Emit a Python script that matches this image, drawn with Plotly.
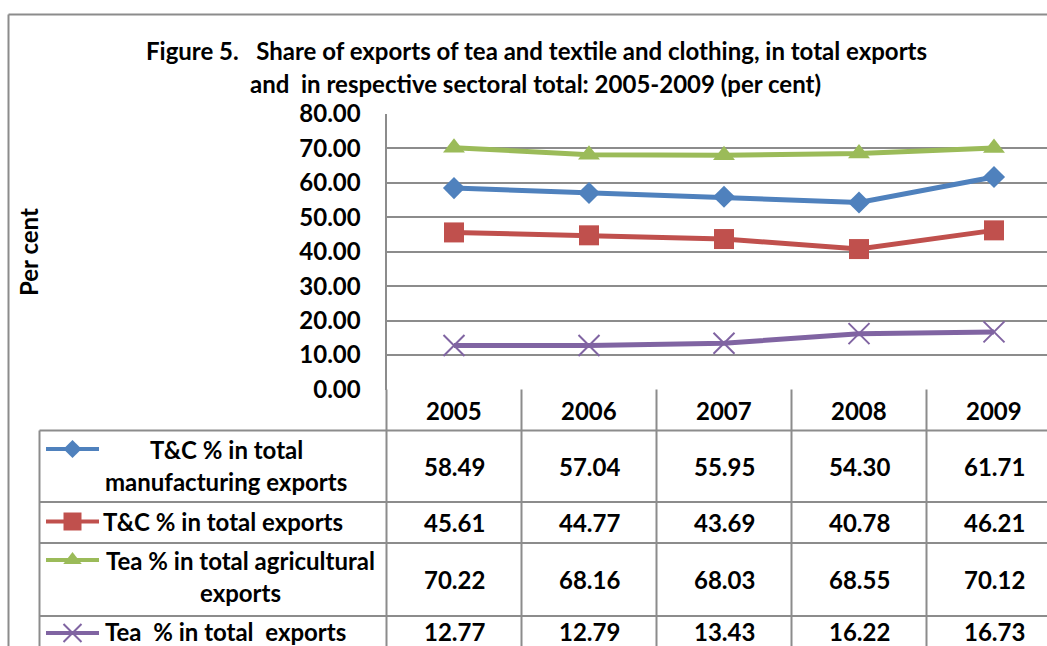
import plotly.graph_objects as go

# Share of exports of tea and textile & clothing (per cent), 2005-2009
years = ["2005", "2006", "2007", "2008", "2009"]
series_names = [
    "T&C % in total manufacturing exports",
    "T&C % in total exports",
    "Tea % in total agricultural exports",
    "Tea  % in total  exports",
]
tc_manufacturing = [58.49, 57.04, 55.95, 54.30, 61.71]
tc_total = [45.61, 44.77, 43.69, 40.78, 46.21]
tea_agricultural = [70.22, 68.16, 68.03, 68.55, 70.12]
tea_total = [12.77, 12.79, 13.43, 16.22, 16.73]
y_ticks = [0, 10, 20, 30, 40, 50, 60, 70, 80]

W, H = 1047, 646
FONT = "Lato"
FS = 24
GRID = "#8c8c8c"


def px(x):
    return x / W


def py(y):
    return 1 - y / H


series = [
    dict(values=tc_manufacturing, color="#4F81BD", symbol="diamond", size=17, key_size=14,
         label=["T&C % in total", "manufacturing exports"], label_x=[226, 226]),
    dict(values=tc_total, color="#C0504D", symbol="square", size=20, key_size=18,
         label=["T&C % in total exports"], label_x=[223]),
    dict(values=tea_agricultural, color="#9BBB59", symbol="triangle-up", size=19, key_size=16,
         label=["Tea % in total agricultural", "exports"], label_x=[240, 240]),
    dict(values=tea_total, color="#8064A2", symbol="x-thin-open", size=21, key_size=18,
         label=["Tea  % in total  exports"], label_x=[225]),
]

# plot-area geometry (pixels)
PL, PT, PB = 386.5, 114, 389.5
COL_W = 135
FIRST_C = PL + COL_W / 2
x_right = (W - FIRST_C) / COL_W

fig = go.Figure()

for s, name in zip(series, series_names):
    is_x = s["symbol"].startswith("x")
    fig.add_trace(go.Scatter(
        x=years, y=s["values"], name=name, mode="lines+markers",
        line=dict(color=s["color"], width=5),
        marker=dict(symbol=s["symbol"], size=s["size"], color=s["color"],
                    line=dict(color=s["color"], width=2 if is_x else 0)),
        showlegend=False, cliponaxis=False,
    ))

# data table row geometry (pixels)
header_top, header_bot = PB, 430.5
row_lines = [430.5, 502, 543, 616, 690]
row_key_y = [449, 521.5, 560, 633]
row_text_y = [[449, 481], [521.5], [560, 592], [631]]
col_lines = [386.5 + COL_W * i for i in range(0, 6)]
LEG_L = 39.5

# legend keys inside the table, drawn on a full-page pixel-space axis pair
for s, ky in zip(series, row_key_y):
    is_x = s["symbol"].startswith("x")
    fig.add_trace(go.Scatter(
        x=[46, 72.5, 99], y=[ky, ky, ky], mode="lines",
        line=dict(color=s["color"], width=4), xaxis="x2", yaxis="y2",
        showlegend=False, hoverinfo="skip",
    ))
    fig.add_trace(go.Scatter(
        x=[72.5], y=[ky], mode="markers", xaxis="x2", yaxis="y2",
        marker=dict(symbol=s["symbol"], size=s["key_size"], color=s["color"],
                    line=dict(color=s["color"], width=2 if is_x else 0)),
        showlegend=False, hoverinfo="skip",
    ))

shapes = []
line_style = dict(color=GRID, width=2)
# outer chart border (top and left edges)
shapes.append(dict(type="line", xref="paper", yref="paper", x0=px(8.5), x1=px(W + 5),
                   y0=py(14.5), y1=py(14.5), line=line_style))
shapes.append(dict(type="line", xref="paper", yref="paper", x0=px(8.5), x1=px(8.5),
                   y0=py(14.5), y1=py(H + 5), line=line_style))
# table horizontal rules
for yl in row_lines:
    shapes.append(dict(type="line", xref="paper", yref="paper", x0=px(LEG_L), x1=px(W + 5),
                       y0=py(yl), y1=py(yl), line=line_style))
# table vertical rules
shapes.append(dict(type="line", xref="paper", yref="paper", x0=px(LEG_L), x1=px(LEG_L),
                   y0=py(header_bot), y1=py(H + 5), line=line_style))
for xl in col_lines:
    shapes.append(dict(type="line", xref="paper", yref="paper", x0=px(xl), x1=px(xl),
                       y0=py(header_top), y1=py(H + 5), line=line_style))

annotations = []
txt_font = dict(family=FONT, size=FS, color="black", weight="bold")
# year headers
for i, yr in enumerate(years):
    annotations.append(dict(x=px(FIRST_C + COL_W * i), y=py(410), xref="paper", yref="paper",
                            text=yr, showarrow=False, font=txt_font,
                            xanchor="center", yanchor="middle"))
# values
row_value_y = [466, 522.5, 579.5, 631]
for s, vy in zip(series, row_value_y):
    for i, v in enumerate(s["values"]):
        annotations.append(dict(x=px(FIRST_C + COL_W * i), y=py(vy), xref="paper", yref="paper",
                                text=f"{v:.2f}", showarrow=False, font=txt_font,
                                xanchor="center", yanchor="middle"))
# row labels
for s, ys in zip(series, row_text_y):
    for line, lx, ly in zip(s["label"], s["label_x"], ys):
        annotations.append(dict(x=px(lx), y=py(ly), xref="paper", yref="paper",
                                text=line, showarrow=False, font=txt_font,
                                xanchor="center", yanchor="middle"))
# title
annotations.append(dict(x=px(536), y=py(50), xref="paper", yref="paper",
                        text="Figure 5.   Share of exports of tea and textile and clothing, in total exports",
                        showarrow=False, font=txt_font, xanchor="center", yanchor="middle"))
annotations.append(dict(x=px(535), y=py(83), xref="paper", yref="paper",
                        text="and  in respective sectoral total: 2005-2009 (per cent)",
                        showarrow=False, font=txt_font, xanchor="center", yanchor="middle"))
# y-axis title
annotations.append(dict(x=px(28), y=py(252), xref="paper", yref="paper", text="Per cent",
                        textangle=-90, showarrow=False, font=txt_font,
                        xanchor="center", yanchor="middle"))

fig.update_layout(
    template="none",
    width=W, height=H, margin=dict(l=0, r=0, t=0, b=0, pad=0, autoexpand=False),
    paper_bgcolor="white", plot_bgcolor="rgba(0,0,0,0)",
    showlegend=False, shapes=shapes, annotations=annotations,
    xaxis=dict(domain=[px(PL), 1], range=[-0.5, x_right], type="category",
               showticklabels=False, showgrid=False, zeroline=False, ticks="",
               showline=False, fixedrange=True, automargin=False, anchor="y"),
    yaxis=dict(domain=[py(PB), py(PT)], range=[0, 80], tickvals=y_ticks,
               ticktext=[f"{t:.2f}" for t in y_ticks],
               tickfont=dict(family=FONT, size=FS, color="black", weight="bold"),
               showgrid=True, gridcolor=GRID, gridwidth=2, zeroline=False,
               showline=True, linecolor=GRID, linewidth=2, ticks="", ticklen=0,
               ticklabelstandoff=19, fixedrange=True, automargin=False, anchor="x"),
    xaxis2=dict(domain=[0, 1], range=[0, W], visible=False, anchor="y2",
                fixedrange=True, automargin=False),
    yaxis2=dict(domain=[0, 1], range=[H, 0], visible=False, anchor="x2",
                fixedrange=True, automargin=False),
)

fig.write_html("out.html")
